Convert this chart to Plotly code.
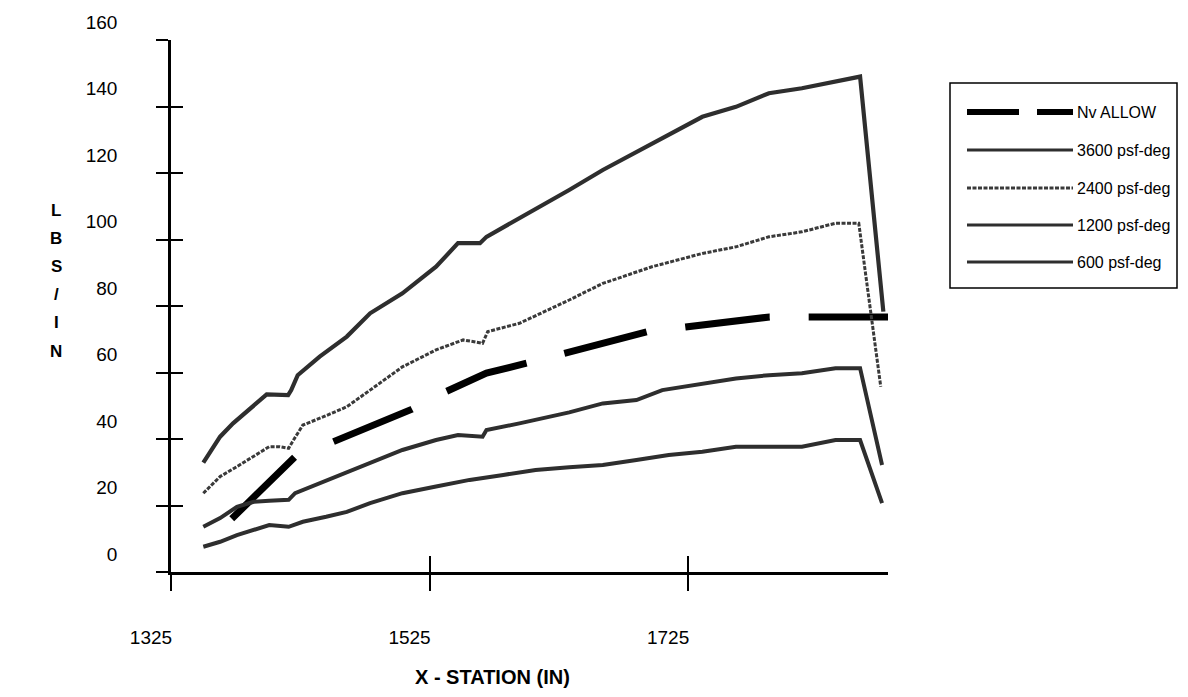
import plotly.graph_objects as go

# ---------------- data ----------------
nv_x = [1372, 1421, 1450, 1511, 1538, 1569, 1601, 1631, 1693, 1723, 1788, 1817, 1882]
nv_y = [16.0, 34.7, 39.1, 48.9, 54.3, 59.8, 62.9, 65.9, 72.2, 73.7, 76.7, 76.7, 76.7]

s3600_x = [1350, 1363, 1373, 1386, 1399, 1415.6, 1418, 1423, 1440, 1461, 1479, 1504, 1530, 1547,
           1564, 1569, 1594.5, 1620, 1633, 1659, 1697, 1736, 1762, 1787.5, 1813, 1839, 1858, 1876]
s3600_y = [32.9, 40.7, 44.7, 49.2, 53.4, 53.2, 54.7, 59.2, 64.8, 70.8, 77.8, 83.8, 91.8, 98.9,
           98.9, 100.8, 106.4, 111.9, 114.9, 120.9, 128.9, 136.9, 139.9, 144.0, 145.5, 147.5, 149.0, 78.3]

s2400_x = [1350, 1363, 1376, 1389, 1401, 1409, 1416, 1419, 1427, 1443, 1461, 1479, 1504, 1530,
           1551, 1566, 1570, 1594.5, 1633, 1659, 1697, 1736, 1762, 1787.5, 1813, 1839, 1857, 1874]
s2400_y = [23.7, 28.7, 31.7, 34.7, 37.7, 37.7, 37.2, 39.2, 44.2, 46.7, 49.7, 54.7, 61.7, 66.8,
           69.8, 68.8, 72.3, 74.8, 81.8, 86.8, 91.8, 95.8, 97.8, 100.8, 102.3, 104.9, 104.9, 55.7]

s1200_x = [1350, 1363, 1376, 1389, 1401, 1416, 1421, 1440, 1461, 1479, 1504, 1530, 1547, 1566,
           1569, 1594.5, 1633, 1659, 1685, 1705, 1736, 1762, 1787.5, 1813, 1839, 1858, 1875]
s1200_y = [13.6, 16.2, 19.6, 21.1, 21.4, 21.7, 23.7, 26.7, 29.7, 32.7, 36.7, 39.7, 41.2, 40.7,
           42.7, 44.7, 48.0, 50.7, 51.7, 54.7, 56.7, 58.2, 59.2, 59.8, 61.3, 61.3, 32.2]

s600_x = [1350, 1363, 1376, 1389, 1401, 1416, 1427, 1445, 1461, 1479, 1504, 1530, 1556, 1582,
          1607, 1633, 1659, 1685, 1710, 1736, 1762, 1787.5, 1813, 1839, 1858, 1875]
s600_y = [7.6, 9.1, 11.1, 12.6, 14.1, 13.6, 15.1, 16.6, 18.1, 20.7, 23.7, 25.7, 27.7, 29.2,
          30.7, 31.5, 32.2, 33.7, 35.2, 36.2, 37.7, 37.7, 37.7, 39.7, 39.7, 20.7]

legend_labels = ["Nv ALLOW", "3600 psf-deg", "2400 psf-deg", "1200 psf-deg", "600 psf-deg"]
x_ticks = [1325, 1525, 1725]
y_ticks = [0, 20, 40, 60, 80, 100, 120, 140, 160]
x_title = "X - STATION (IN)"
y_title_letters = ["L", "B", "S", "/", "I", "N"]

# ---------------- layout helpers ----------------
W, H = 1188, 697
ML, MR, MT, MB = 171, 300, 40, 125
PW, PH = W - ML - MR, H - MT - MB


def fx(px):
    return (px - ML) / PW


def fy(py):
    return (H - MB - py) / PH


FONT = "Liberation Sans, Arial, sans-serif"

series = [
    (s3600_x, s3600_y, dict(color="#2e2e2e", width=4.2)),
    (s2400_x, s2400_y, dict(color="#3a3a3a", width=3, dash="4px,1.5px")),
    (s1200_x, s1200_y, dict(color="#2e2e2e", width=4)),
    (s600_x, s600_y, dict(color="#2e2e2e", width=4)),
]

nv_dash = "88px,42px" + ",85px,39px" * 8

fig = go.Figure()
fig.add_trace(go.Scatter(x=nv_x, y=nv_y, mode="lines", name=legend_labels[0],
                         line=dict(color="black", width=7, dash=nv_dash),
                         showlegend=False, cliponaxis=False))
for (xs, ys, ln), name in zip(series, legend_labels[1:]):
    fig.add_trace(go.Scatter(x=xs, y=ys, mode="lines", name=name, line=ln, showlegend=False))

xr = [1325, 1879.6]
yr = [0, 160]

# invisible trace that creates the overlay axes drawing the inner half of the cross ticks
fig.add_trace(go.Scatter(x=[1400], y=[50], xaxis="x2", yaxis="y2", mode="markers",
                         marker=dict(opacity=0, size=1), showlegend=False, hoverinfo="skip"))

fig.update_layout(
    width=W, height=H,
    margin=dict(l=ML, r=MR, t=MT, b=MB, pad=0),
    paper_bgcolor="white", plot_bgcolor="white",
    font=dict(family=FONT, color="black"),
    xaxis=dict(range=xr, tickmode="array", tickvals=x_ticks, ticktext=[str(v) for v in x_ticks],
               showgrid=False, zeroline=False, showline=True, linecolor="black", linewidth=2.5,
               ticks="outside", ticklen=16, tickwidth=2, tickcolor="black",
               tickfont=dict(size=19, family=FONT, color="black"),
               ticklabelstandoff=30, ticklabelshift=-20),
    yaxis=dict(range=yr, tickmode="array", tickvals=y_ticks, ticktext=[str(v) for v in y_ticks],
               showgrid=False, zeroline=False, showline=True, linecolor="black", linewidth=2.5,
               ticks="outside", ticklen=12, tickwidth=2, tickcolor="black",
               tickfont=dict(size=19, family=FONT, color="black"),
               ticklabelstandoff=35, ticklabelshift=-18),
    xaxis2=dict(range=xr, overlaying="x", anchor="y", side="bottom", tickmode="array",
                tickvals=x_ticks, showticklabels=False, showgrid=False, zeroline=False,
                showline=False, ticks="inside", ticklen=16, tickwidth=2, tickcolor="black"),
    yaxis2=dict(range=yr, overlaying="y", anchor="x", side="left", tickmode="array",
                tickvals=y_ticks, showticklabels=False, showgrid=False, zeroline=False,
                showline=False, ticks="inside", ticklen=12, tickwidth=2, tickcolor="black"),
    showlegend=False,
)

annotations = [
    dict(text="<b>" + x_title + "</b>", x=fx(492), y=fy(677), xref="paper", yref="paper",
         showarrow=False, xanchor="center", yanchor="middle",
         font=dict(size=20, family=FONT, color="black")),
]
for i, ch in enumerate(y_title_letters):
    annotations.append(dict(text="<b>" + ch + "</b>", x=fx(56), y=fy(210 + 28.2 * i),
                            xref="paper", yref="paper", showarrow=False,
                            xanchor="center", yanchor="middle",
                            font=dict(size=17, family=FONT, color="black")))

# custom legend
shapes = [dict(type="rect", xref="paper", yref="paper", x0=fx(950), x1=fx(1177),
               y0=fy(83), y1=fy(288), line=dict(color="black", width=1.5),
               fillcolor="white", layer="below")]
leg_y = [112, 150, 188, 225, 262]
leg_lines = [dict(color="black", width=6, dash="52px,18px")] + [s[2] for s in series]
for yy, ln, lab in zip(leg_y, leg_lines, legend_labels):
    l2 = dict(ln)
    if lab != legend_labels[0]:
        l2["width"] = min(ln["width"], 3)
    shapes.append(dict(type="line", xref="paper", yref="paper", x0=fx(967), x1=fx(1073),
                       y0=fy(yy), y1=fy(yy), line=l2))
    annotations.append(dict(text=lab, x=fx(1075), y=fy(yy), xref="paper", yref="paper",
                            showarrow=False, xanchor="left", yanchor="middle",
                            font=dict(size=16, family=FONT, color="black")))

fig.update_layout(annotations=annotations, shapes=shapes)

fig.write_html("out.html")
